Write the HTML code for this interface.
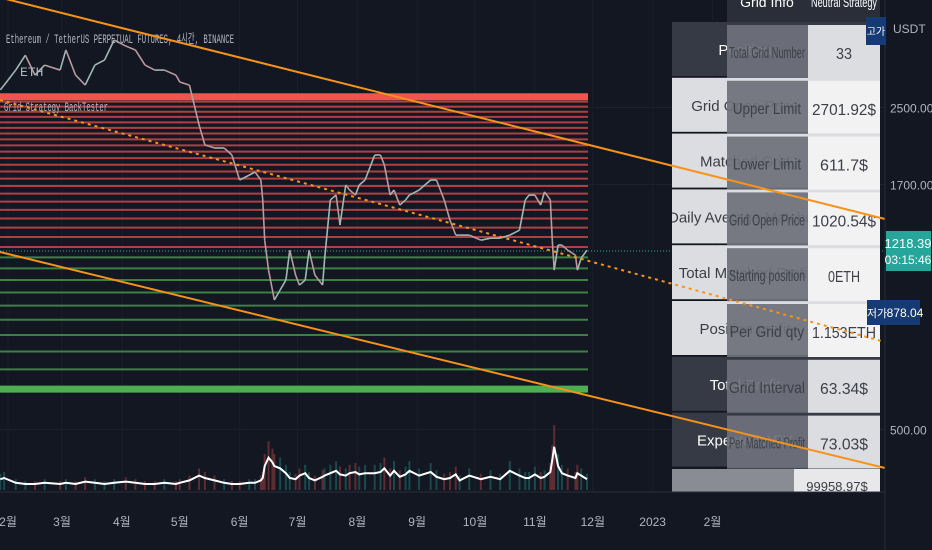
<!DOCTYPE html>
<html><head><meta charset="utf-8"><style>
html,body{margin:0;padding:0;background:#131722;}
svg{display:block;font-family:"Liberation Sans","Noto Sans CJK KR",sans-serif;}
</style></head><body>
<svg id="c" width="932" height="550" viewBox="0 0 932 550">
<defs><clipPath id="tclip"><rect x="672" y="0" width="208" height="493"/></clipPath></defs>
<rect x="0" y="0" width="932" height="550" fill="#131722"/>
<g id="gridbg"></g>
<g id="vol"></g>
<g id="levels"></g>
<line x1="0" y1="251" x2="885" y2="251" stroke="#26a69a" stroke-width="1" stroke-dasharray="1,2"/>
<g id="price"></g>
<text x="6" y="43" fill="#b2b5be" font-size="13" font-family="Liberation Mono,monospace" textLength="228" lengthAdjust="spacingAndGlyphs">Ethereum / TetherUS PERPETUAL FUTURES, 4시간, BINANCE</text>
<text x="20" y="76" fill="#b2b5be" font-size="13" font-family="Liberation Mono,monospace">ETH</text>
<text x="4" y="111" fill="#b2b5be" font-size="13" font-family="Liberation Mono,monospace" textLength="104" lengthAdjust="spacingAndGlyphs">Grid Strategy BackTester</text>
<g id="table" clip-path="url(#tclip)"></g>
<g id="trend"></g>
<line x1="885" y1="0" x2="885" y2="550" stroke="#2a2e39"/>
<line x1="0" y1="492" x2="885" y2="492" stroke="#2a2e39"/>
<g id="axis"></g>
</svg>
<script>
const days=[-4,-2,4,9,14,19,27,30,35,40,45,50,55,61,66,71,76,81,87,89,94,99,102,107,112,116,120,125,128,131,132,133,135,137,138,141,144,146,149,151,154,156,159,163,164,167,170,172,175,177,180,182,185,190,193,195,198,200,203,206,208,213,219,222,226,229,232,234,239,245,250,255,260,265,268,270,273,276,278,281,282,283,285,287,290,294,295,297,300];
const prices=[2730,2797,3015,3247,2940,3091,3015,3334,2940,2797,3091,3170,3504,3400,3334,3091,3015,3015,2940,2841,2797,2292,2074,2042,2042,1972,1740,1783,1811,1740,1575,1288,1109,1004,955,1004,1055,1225,1082,1029,1055,1225,1082,1029,1166,1575,1614,1389,1697,1655,1614,1697,1740,1972,1972,1876,1614,1655,1535,1575,1614,1655,1740,1740,1575,1424,1321,1321,1321,1288,1301,1301,1321,1354,1575,1614,1614,1535,1640,1575,1288,1109,1257,1257,1225,1195,1109,1178,1225];
const volumes=[0.9,1.0,0.6,0.5,0.5,0.6,0.5,0.6,0.5,0.7,0.6,0.5,0.6,0.7,0.6,0.5,0.5,0.6,0.5,0.6,0.8,1.2,1.0,0.8,0.6,0.5,0.5,0.6,0.6,0.8,1.0,2.0,2.7,2.3,2.0,1.8,1.4,1.0,0.9,1.2,1.4,1.0,0.8,1.1,1.2,1.4,1.6,1.3,1.2,1.4,1.5,1.3,1.4,1.4,1.5,1.8,1.2,1.6,1.1,1.3,1.6,1.2,1.5,1.1,0.9,1.0,1.3,0.8,1.2,0.9,1.1,0.9,1.6,1.2,1.0,1.0,1.3,1.0,1.1,1.5,2.5,3.6,2.0,1.4,1.2,1.0,1.4,1.2,0.9];
const gridLower=611.7, gridStep=63.34, gridCount=33, lastPrice=1218.39;
const axisTicks=[2500,1700,500];
const monthLabels=["2월","3월","4월","5월","6월","7월","8월","9월","10월","11월","12월","2023","2월"];
const monthDays=[0,28,59,89,120,150,181,212,242,273,303,334,365];
const tableLeftLabels=["Position","Grid Open Price","Matched Grid","Daily Average Matched","Total Matched Profit","Position profit","Total Profit","Expected APY"];
const tableLabels=["Total Grid Number","Upper Limit","Lower Limit","Grid Open Price","Starting position","Per Grid qty","Grid Interval","Per Matched Profit"];
const tableValues=["33","2701.92$","611.7$","1020.54$","0ETH","1.153ETH","63.34$","73.03$"];

const NS="http://www.w3.org/2000/svg";
function mk(tag,attrs,parent,txt){const e=document.createElementNS(NS,tag);for(const k in attrs)e.setAttribute(k,attrs[k]);if(txt!==undefined)e.textContent=txt;parent.appendChild(e);return e;}
const xS=d=>8+d*1.93;
const TOP=2701.92;
const yS=p=>92+460.5*Math.log10(TOP/p);
const vS=v=>490-v*12;

const gb=document.getElementById('gridbg');
axisTicks.forEach(t=>{const l=mk('line',{x1:0,x2:885,y1:yS(t),y2:yS(t),stroke:'#1e222d'},gb);

});
monthDays.forEach(d=>{const l=mk('line',{x1:xS(d),x2:xS(d),y1:0,y2:492,stroke:'#1a1e29'},gb);

});

const lv=document.getElementById('levels');
for(let i=0;i<gridCount;i++){
  const p=gridLower+i*gridStep;const y=yS(p);
  const edge=(i===0||i===gridCount-1);
  const col=p>lastPrice?'#f05350':'#4caf50';
  const l=mk('line',{x1:0,x2:588,y1:y,y2:y,stroke:col,'stroke-width':edge?7:2,'stroke-opacity':edge?1:0.7},lv);
  
  
}

const pg=document.getElementById('price');
for(let i=1;i<days.length;i++){
  const up=prices[i]>=prices[i-1];
  const l=mk('line',{x1:xS(days[i-1]),y1:yS(prices[i-1]),x2:xS(days[i]),y2:yS(prices[i]),stroke:up?'#9fb8b4':'#b89a9e','stroke-width':1.6},pg);
  
  
}

const vg=document.getElementById('vol');
for(let i=0;i<days.length;i++){
  const up=i===0||prices[i]>=prices[i-1];
  const h=volumes[i]*18;
  const r=mk('rect',{x:xS(days[i])-1,y:490-h,width:2,height:h,fill:up?'#26a69a':'#ef5350','fill-opacity':0.35},vg);
  
  
}
const vp=mk('polyline',{points:days.map((d,i)=>xS(d)+','+vS(volumes[i])).join(' '),fill:'none',stroke:'#ffffff','stroke-width':2},vg);



const tb=document.getElementById('table');
const rowY=i=>22+i*55.8;
for(let i=0;i<8;i++){
  const dark=(i===0||i>=6);
  const r=mk('rect',{x:672,y:rowY(i),width:208,height:54,fill:dark?'#363a45':'#dcdde0'},tb);
  
  
  const t=mk('text',{x:745,y:rowY(i)+33,'text-anchor':'middle',fill:dark?'#ffffff':'#3a3d45','font-size':15},tb,tableLeftLabels[i]);
  
  
}
const lr=mk('rect',{x:672,y:469,width:122,height:23,fill:'#8a8c94'},tb);


const lv2=mk('rect',{x:794,y:469,width:86,height:23,fill:'#e8e8ea'},tb);


const lt=mk('text',{x:837,y:491,'text-anchor':'middle',fill:'#3a3d45','font-size':13},tb,'99958.97$');


const h1=mk('rect',{x:727,y:0,width:81,height:22,fill:'#2a2e39'},tb);


const h2=mk('rect',{x:808,y:0,width:72,height:22,fill:'#2a2e39'},tb);


const ht1=mk('text',{x:767,y:7,'text-anchor':'middle',fill:'#ffffff','font-size':14},tb,'Grid Info');


const ht2=mk('text',{x:844,y:7,'text-anchor':'middle',fill:'#ffffff','font-size':14,textLength:66,lengthAdjust:'spacingAndGlyphs'},tb,'Neutral Strategy');


for(let i=0;i<8;i++){
  const y=25+i*55.8;
  const a=mk('rect',{x:727,y:y,width:81,height:53,fill:'#6e717b','fill-opacity':0.93},tb);
  
  
  const b=mk('rect',{x:808,y:y,width:72,height:53,fill:i===0||i>=6?'#dcdde0':'#f2f2f3'},tb);
  
  
  const w=Math.min(76,tableLabels[i].length*6.2);
  const t1=mk('text',{x:767,y:y+33,'text-anchor':'middle',fill:'#3d4049','font-size':16,textLength:w,lengthAdjust:'spacingAndGlyphs'},tb,tableLabels[i]);
  
  
  const t2=mk('text',{x:844,y:y+34,'text-anchor':'middle',fill:'#3d4049','font-size':16,textLength:Math.min(64,tableValues[i].length*8),lengthAdjust:'spacingAndGlyphs'},tb,tableValues[i]);
  
  
}

const tg=document.getElementById('trend');
[[0,-2.5,885,219,''],[0,252,885,468,''],[0,100,885,342,'3,4']].forEach(a=>{
  const l=mk('line',{x1:a[0],y1:a[1],x2:a[2],y2:a[3],stroke:'#f7931a','stroke-width':2,'stroke-dasharray':a[4]||'none'},tg);
  
  
});

const ax=document.getElementById('axis');
const ua=mk('text',{x:893,y:33,fill:'#b2b5be','font-size':12},ax,'USDT');


axisTicks.forEach(t=>{const e=mk('text',{x:890,y:yS(t)+5,fill:'#b2b5be','font-size':12},ax,t.toFixed(2));

});
monthLabels.forEach((m,i)=>{const e=mk('text',{x:xS(monthDays[i]),y:526,'text-anchor':'middle',fill:'#b2b5be','font-size':12},ax,m);

});
const pb=mk('rect',{x:886,y:231,width:45,height:40,fill:'#26a69a'},ax);


const pt=mk('text',{x:908,y:248,'text-anchor':'middle',fill:'#fff','font-size':13},ax,lastPrice.toFixed(2));


const ct=mk('text',{x:908,y:264,'text-anchor':'middle',fill:'#fff','font-size':12},ax,'03:15:46');


const lb=mk('rect',{x:867,y:300,width:53,height:25,fill:'#163a73'},ax);


const lt1=mk('text',{x:877,y:317,'text-anchor':'middle',fill:'#fff','font-size':11},ax,'저가');


const lt2=mk('text',{x:905,y:317,'text-anchor':'middle',fill:'#fff','font-size':12},ax,'878.04');


const hb=mk('rect',{x:866,y:17,width:20,height:28,fill:'#163a73'},ax);


const ht=mk('text',{x:876,y:35,'text-anchor':'middle',fill:'#fff','font-size':10},ax,'고가');


</script>
</body></html>
